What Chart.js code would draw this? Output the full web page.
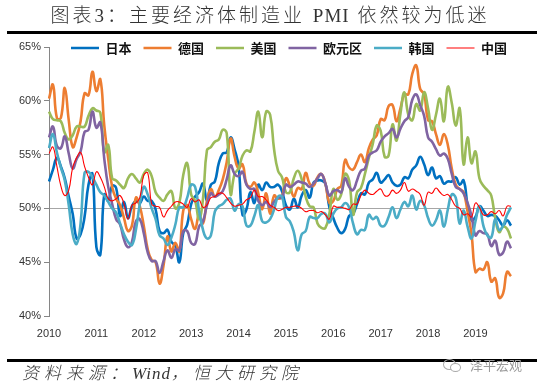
<!DOCTYPE html>
<html><head><meta charset="utf-8">
<script src="https://cdn.jsdelivr.net/npm/chart.js@4.4.1/dist/chart.umd.min.js"></script>
<style>
html,body{margin:0;padding:0;background:#fff;}
#wrap{position:relative;width:537px;height:392px;overflow:hidden;background:#fff;}
#c{position:absolute;left:0;top:0;}
#title{position:absolute;left:0;top:3px;width:540px;text-align:center;font-family:"Liberation Serif","Noto Sans CJK SC",serif;font-size:19px;font-weight:300;letter-spacing:3px;color:#333;line-height:26px;white-space:nowrap;}
#title span{letter-spacing:1px;}
#rule1{position:absolute;left:7px;top:31px;width:530px;height:3px;background:#000;}
#rule2{position:absolute;left:7px;top:359px;width:530px;height:3px;background:#000;}
#src{position:absolute;left:22px;top:362px;font-family:"Liberation Serif","Noto Sans CJK SC",serif;font-style:italic;font-weight:300;font-size:17px;letter-spacing:5px;color:#333;line-height:24px;white-space:nowrap;}
#src span{letter-spacing:1px;}
#wm{position:absolute;left:470px;top:356px;font-family:"Noto Sans CJK SC",sans-serif;font-size:13px;color:#9a9a9a;line-height:18px;white-space:nowrap;}
#ic1{position:absolute;left:443px;top:359px;width:11px;height:9px;border:1px solid #aaa;border-radius:50%;}
#ic2{position:absolute;left:450px;top:363px;width:9px;height:7px;border:1px solid #aaa;border-radius:50%;background:#fff;}
</style></head>
<body>
<div id="wrap">
<canvas id="c" width="537" height="392"></canvas>
<div id="title">图表3：主要经济体制造业 <span>PMI</span> 依然较为低迷</div>
<div id="rule1"></div>
<div id="rule2"></div>
<div id="src">资料来源：<span>Wind</span>，恒大研究院</div>
<div id="ic1"></div><div id="ic2"></div>
<div id="wm">泽平宏观</div>
</div>
<script>
// Monthly data, Mar 2010 – Dec 2019
const years = ['2010','2011','2012','2013','2014','2015','2016','2017','2018','2019'];
const seriesNames = ['日本','德国','美国','欧元区','韩国','中国'];

const japan = [
  52.5, 53.6, 54.7, 53.9, 52.8, 51.1, 49.5, 47.2, 47.6, 49.2,
  52.2, 53.2, 46.4, 45.7, 51.3, 50.7, 52.1, 51.9, 49.3, 50.6, 49.1, 50.2,
  50.7, 50.5, 51.1, 50.7, 50.7, 49.9, 47.9, 47.7, 48.0, 46.9, 46.5, 45.0,
  47.7, 48.5, 50.4, 51.1, 51.5, 52.3, 50.7, 52.2, 52.5, 54.2, 55.1, 55.2,
  56.6, 55.5, 53.9, 49.4, 49.9, 51.5, 50.5, 52.2, 51.7, 52.4, 52.0, 52.0,
  52.2, 51.6, 50.3, 49.9, 50.9, 50.1, 51.2, 51.7, 51.0, 52.4, 52.6, 52.6,
  52.3, 50.1, 49.1, 48.2, 47.7, 48.1, 49.3, 49.5, 50.4, 51.4, 51.3, 52.4,
  52.7, 53.3, 52.4, 52.7, 53.1, 52.4, 52.1, 52.2, 52.9, 52.8, 53.6, 54.0,
  54.8, 54.1, 53.1, 53.8, 52.8, 53.0, 52.3, 52.5, 52.5, 52.9, 52.2, 52.6,
  50.3, 48.9, 49.2, 50.2, 49.8, 49.3, 49.4, 49.3, 48.9, 48.4, 48.9, 48.4
];
const germany = [
  60.2, 61.5, 58.4, 58.4, 61.2, 58.2, 55.7, 56.6, 58.1, 60.7,
  60.5, 62.7, 60.9, 62.0, 57.7, 54.6, 52.0, 50.9, 50.3, 49.1, 47.9, 48.4,
  51.0, 50.2, 48.4, 46.2, 45.2, 45.0, 43.0, 44.7, 47.4, 46.0, 46.8, 46.0,
  49.8, 50.3, 49.0, 48.1, 49.4, 48.6, 50.7, 51.8, 51.1, 51.7, 52.7, 54.3,
  56.5, 54.8, 53.7, 54.1, 52.3, 52.0, 52.4, 51.4, 49.9, 51.4, 49.5, 51.2,
  50.9, 51.1, 52.8, 52.1, 51.1, 51.9, 51.8, 53.3, 52.3, 52.1, 52.9, 53.2,
  52.3, 50.5, 50.7, 51.8, 52.1, 54.5, 53.8, 53.6, 54.3, 55.0, 54.3, 55.6,
  56.4, 56.8, 58.3, 58.2, 59.5, 59.6, 58.1, 59.3, 60.6, 60.6, 62.5, 63.3,
  61.1, 60.6, 58.2, 58.1, 56.9, 55.9, 56.9, 55.9, 53.7, 52.2, 51.8, 51.5,
  49.7, 47.6, 44.1, 44.4, 44.3, 45.0, 43.2, 43.5, 41.7, 42.1, 44.1, 43.7
];
const usa = [
  59.0, 58.3, 58.2, 58.1, 57.0, 56.4, 56.8, 57.6, 57.6, 57.6,
  58.6, 59.3, 59.1, 58.9, 55.2, 55.9, 52.8, 52.6, 52.2, 51.9, 52.8, 53.2,
  52.8, 52.4, 53.2, 53.6, 53.0, 51.5, 51.0, 50.7, 51.3, 51.6, 50.0, 50.5,
  53.1, 54.2, 51.3, 50.7, 49.0, 50.9, 55.4, 55.7, 56.2, 56.4, 57.3, 57.0,
  51.3, 53.2, 53.7, 54.9, 55.4, 55.3, 57.1, 59.0, 56.6, 59.0, 58.7, 55.5,
  53.5, 52.9, 51.5, 51.5, 52.8, 53.5, 52.7, 51.1, 50.2, 50.1, 48.6, 48.2,
  48.2, 49.5, 51.8, 50.8, 51.3, 53.2, 52.6, 49.4, 51.5, 51.9, 53.2, 54.7,
  56.0, 57.7, 57.2, 54.8, 54.9, 57.8, 56.3, 58.8, 60.8, 58.7, 58.2, 59.7,
  59.1, 60.8, 59.3, 57.3, 58.7, 60.2, 58.1, 61.3, 59.8, 57.7, 59.3, 54.1,
  56.6, 54.2, 55.3, 52.8, 52.1, 51.7, 51.2, 49.1, 47.8, 48.3, 48.1, 47.2
];
const eurozone = [
  56.6, 57.6, 55.8, 55.6, 56.7, 55.1, 53.7, 54.6, 55.3, 57.1,
  57.3, 59.0, 57.5, 58.0, 54.6, 52.0, 50.4, 49.0, 48.5, 47.1, 46.4, 46.9,
  48.8, 49.0, 47.7, 45.9, 45.1, 45.1, 44.0, 45.1, 46.1, 45.4, 46.2, 46.1,
  47.9, 47.9, 46.8, 46.7, 48.3, 48.8, 50.3, 51.4, 51.1, 51.3, 51.6, 52.7,
  54.0, 53.2, 53.0, 53.4, 52.2, 51.8, 51.8, 50.7, 50.3, 50.6, 50.1, 50.6,
  51.0, 51.0, 52.2, 52.0, 52.2, 52.5, 52.4, 52.3, 52.0, 52.3, 52.8, 53.2,
  52.3, 51.2, 51.6, 51.7, 51.5, 52.8, 52.0, 51.7, 52.6, 53.5, 53.7, 54.9,
  55.2, 55.4, 56.2, 56.7, 57.0, 57.4, 56.6, 57.4, 58.1, 58.5, 60.1, 60.6,
  59.6, 58.6, 56.6, 56.2, 55.5, 54.9, 55.1, 54.6, 53.2, 52.0, 51.8, 51.4,
  50.5, 49.3, 47.5, 47.9, 47.7, 47.6, 46.5, 47.0, 45.7, 45.9, 46.9, 46.3
];
const korea = [
  55.6, 56.9, 55.2, 53.8, 52.6, 50.3, 47.6, 46.7, 48.6, 53.3,
  53.4, 52.9, 52.2, 51.5, 51.2, 50.6, 50.0, 49.6, 48.6, 47.6, 46.9, 46.6,
  48.0, 50.4, 52.0, 51.3, 50.0, 49.0, 47.5, 47.2, 46.6, 47.3, 48.5, 50.1,
  50.1, 51.0, 52.2, 52.0, 49.8, 48.0, 47.2, 47.5, 49.7, 50.2, 50.4, 50.8,
  50.9, 49.8, 50.4, 50.2, 48.4, 48.4, 49.3, 50.3, 48.8, 48.7, 49.0, 49.9,
  51.1, 51.1, 49.2, 48.8, 47.8, 46.1, 47.6, 47.9, 49.2, 49.1, 49.1, 49.5,
  49.5, 48.7, 49.5, 50.0, 50.1, 50.5, 50.1, 48.6, 47.6, 48.0, 48.0, 49.4,
  49.0, 49.2, 48.4, 48.4, 49.2, 50.1, 49.1, 49.9, 50.6, 50.2, 51.2, 49.9,
  50.7, 50.3, 49.1, 48.4, 48.9, 49.8, 48.3, 49.9, 51.3, 51.0, 48.6, 49.8,
  48.3, 47.2, 48.8, 50.2, 48.4, 47.5, 47.3, 49.0, 48.0, 48.4, 49.4, 50.1
];
const china = [
  55.1, 55.7, 53.9, 52.1, 51.2, 51.7, 53.8, 54.7, 55.2, 53.9,
  52.9, 52.2, 53.4, 52.9, 52.0, 50.9, 50.7, 50.9, 51.2, 50.4, 49.0, 50.3,
  50.5, 51.0, 53.1, 53.3, 50.4, 50.2, 50.1, 49.2, 49.8, 50.2, 50.6, 50.6,
  50.4, 50.1, 50.9, 50.6, 50.8, 50.1, 50.3, 51.0, 51.1, 51.4, 51.4, 51.0,
  50.5, 50.2, 50.3, 50.4, 50.8, 51.0, 51.7, 51.1, 51.1, 50.8, 50.3, 50.1,
  49.8, 49.9, 50.1, 50.1, 50.2, 50.2, 50.0, 49.7, 49.8, 49.8, 49.6, 49.7,
  49.4, 49.0, 50.2, 50.1, 50.1, 50.0, 49.9, 50.4, 50.4, 51.2, 51.7, 51.4,
  51.3, 51.6, 51.8, 51.2, 51.2, 51.7, 51.4, 51.7, 52.4, 51.6, 51.8, 51.6,
  51.3, 50.3, 51.5, 51.4, 51.9, 51.5, 51.2, 51.3, 50.8, 50.2, 50.0, 49.4,
  49.5, 49.2, 50.5, 50.1, 49.4, 49.4, 49.7, 49.5, 49.8, 49.3, 50.2, 50.2
];

// month categories (Mar 2010 .. Dec 2019)
const months = [];
years.forEach((y, yi) => {
  for (let m = (yi === 0 ? 3 : 1); m <= 12; m++) months.push(y + '-' + (m < 10 ? '0' + m : m));
});

const colors = ['#0070C0', '#ED7D31', '#9BBB59', '#8064A2', '#4BACC6', '#FF0000'];
const values = [japan, germany, usa, eurozone, korea, china];

const datasets = values.map((v, i) => ({
  label: seriesNames[i],
  data: v,
  borderColor: colors[i],
  backgroundColor: colors[i],
  borderWidth: i === 5 ? 1.1 : 2.6,
  pointRadius: 0,
  tension: 0.45,
  fill: false,
  order: 6 - i
}));

const legendShift = {
  id: 'legendShift',
  afterLayout(chart) {
    const L = chart.legend;
    if (!L) return;
    const dy = 48 - (L.top + 12 + 6.5);
    const dx = 289 - (L.left + L.right) / 2;
    L.top += dy; L.bottom += dy;
    L.left += dx; L.right += dx;
  }
};

new Chart(document.getElementById('c'), {
  type: 'line',
  data: { labels: months, datasets: datasets },
  options: {
    responsive: false,
    animation: false,
    devicePixelRatio: 1,
    layout: { padding: { left: 0, right: 26, top: 12, bottom: 46 } },
    plugins: {
      legend: {
        position: 'top',
        labels: {
          usePointStyle: true,
          pointStyle: 'line',
          pointStyleWidth: 28,
          padding: 12,
          color: '#111',
          font: { family: '"Noto Sans CJK SC", sans-serif', size: 13, weight: 'bold' },
          sort: (a, b) => a.datasetIndex - b.datasetIndex
        }
      },
      tooltip: { enabled: false }
    },
    scales: {
      x: {
        grid: { display: false, drawTicks: false },
        border: { display: false },
        ticks: {
          autoSkip: false,
          maxRotation: 0,
          padding: 11,
          color: '#333',
          font: { family: '"Liberation Sans", Arial, sans-serif', size: 11 },
          callback: function (v, i) { return i % 12 === 0 ? years[i / 12] : null; }
        },
        afterFit: s => { s.height = 30; }
      },
      y: {
        min: 40, max: 65,
        ticks: {
          stepSize: 5,
          padding: 3,
          color: '#333',
          font: { family: '"Liberation Sans", Arial, sans-serif', size: 11 },
          callback: v => v + '%'
        },
        grid: {
          color: c => (c.tick && c.tick.value === 50) ? '#A6A6A6' : 'rgba(0,0,0,0)',
          tickColor: '#868686',
          tickLength: 5,
          lineWidth: 1
        },
        border: { color: '#868686', width: 1 },
        afterFit: s => { s.width = 49; }
      }
    }
  },
  plugins: [legendShift]
});
</script>
</body></html>
